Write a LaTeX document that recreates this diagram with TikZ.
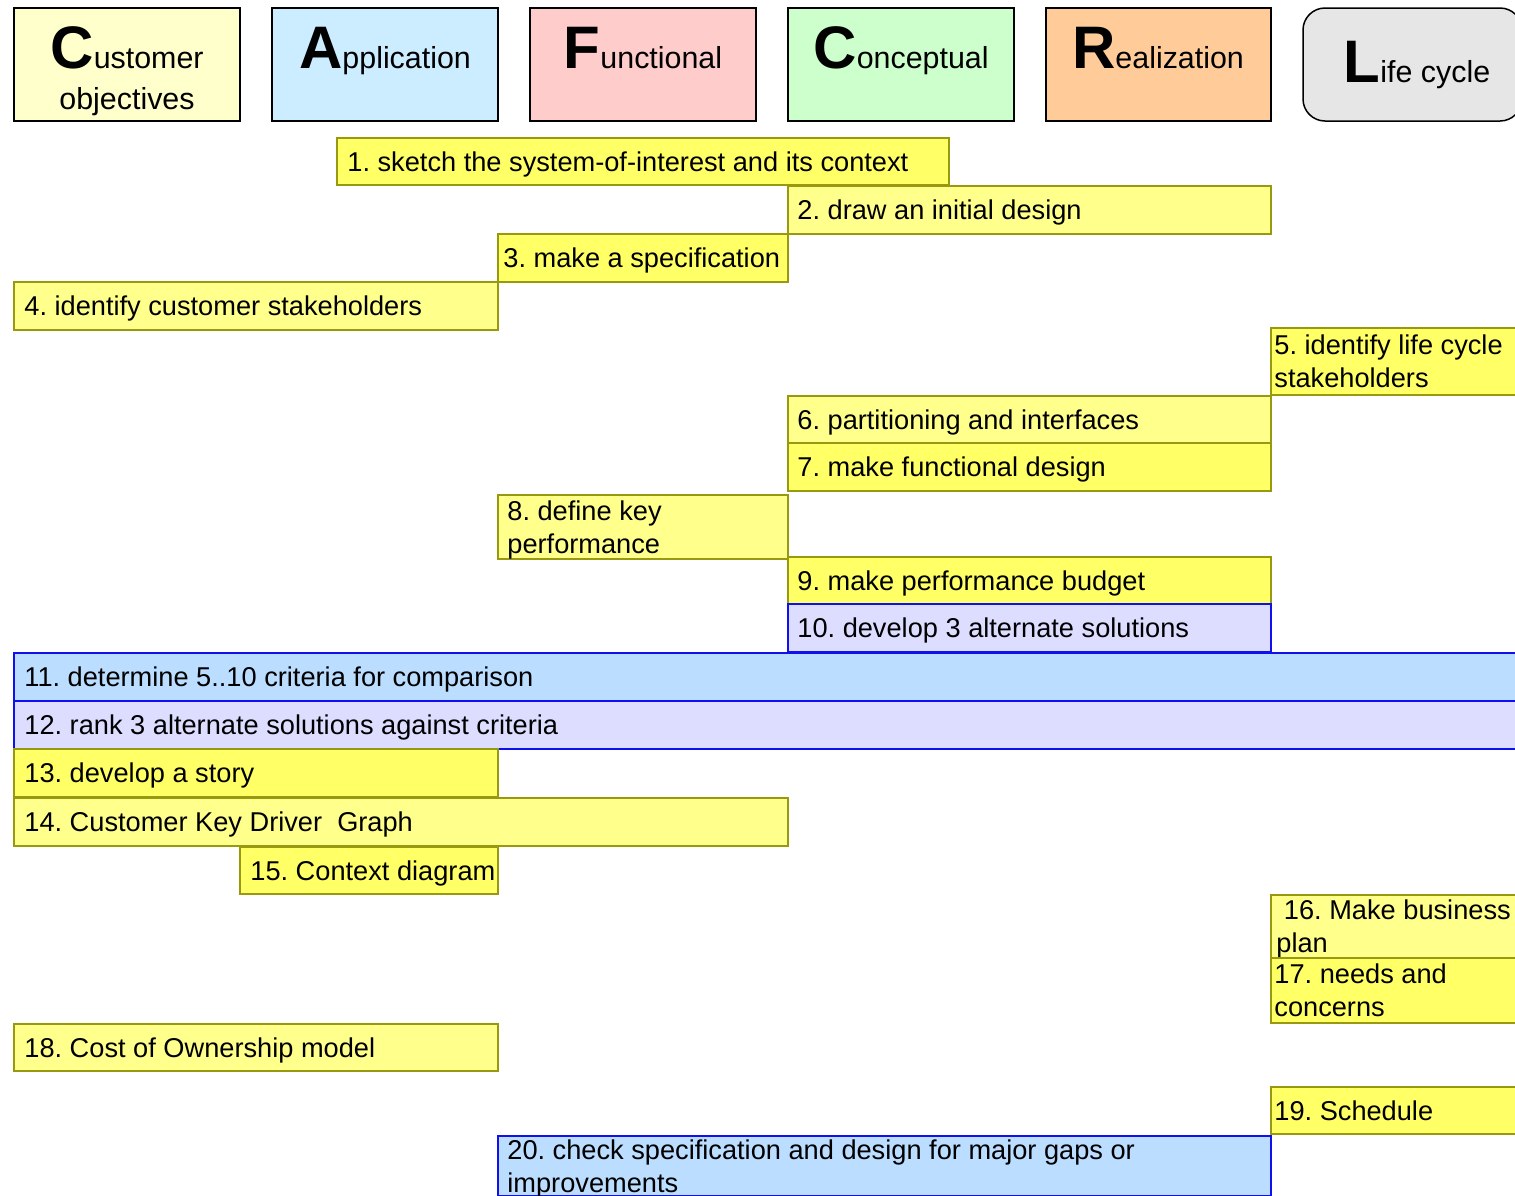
\documentclass[tikz,border=0pt]{standalone}
\usepackage{fontspec}
\setmainfont{Liberation Sans}
\frenchspacing
\definecolor{hdrY}{HTML}{FFFFCC}
\definecolor{hdrB}{HTML}{CCECFF}
\definecolor{hdrP}{HTML}{FFCCCC}
\definecolor{hdrG}{HTML}{CCFFCC}
\definecolor{hdrO}{HTML}{FFCC99}
\definecolor{hdrL}{HTML}{E6E6E6}
\definecolor{yBright}{HTML}{FFFF66}
\definecolor{yPale}{HTML}{FFFF8C}
\definecolor{yBorder}{HTML}{999910}
\definecolor{bLight}{HTML}{BBDDFF}
\definecolor{bLav}{HTML}{DDDDFF}
\definecolor{bBorder}{HTML}{1010EE}
\newcommand\bigletter[1]{{\fontsize{30}{30}\selectfont\bfseries #1}}
\newcommand\task[9]{\draw[#6] (#2,#3) rectangle (#4,#5);
  \node[ttext,#8] (#1) at ({#2+#7},{(#3+#5)/2}) {#9};}
\begin{document}
\begin{tikzpicture}[x=0.5pt,y=-0.5pt,
  hdr/.style={draw=black, line width=0.75pt},
  tb/.style={line width=0.75pt},
  bright/.style={tb, fill=yBright, draw=yBorder},
  pale/.style={tb, fill=yPale, draw=yBorder},
  lblue/.style={tb, fill=bLight, draw=bBorder},
  lav/.style={tb, fill=bLav, draw=bBorder},
  ttext/.style={anchor=west, inner sep=0pt, align=left, font=\fontsize{13.6}{16.5}\selectfont, text height=9.9pt, text depth=0.2pt},
  two/.style={text height=26.4pt, text depth=0.2pt},
  htext/.style={anchor=base, inner sep=0pt, font=\fontsize{15.2}{21}\selectfont}]
\useasboundingbox (0,0) rectangle (1515,1195);
\clip (0,0) rectangle (1515,1195);
% headers
\draw[hdr, fill=hdrY] (14,8) rectangle (240,121);
\node[htext] (hC1) at (127,68) {\bigletter{C}ustomer};
\node[htext] (hC2) at (127,109) {objectives};
\draw[hdr, fill=hdrB] (272,8) rectangle (498,121);
\node[htext] (hA) at (385,68) {\bigletter{A}pplication};
\draw[hdr, fill=hdrP] (530,8) rectangle (756,121);
\node[htext] (hF) at (643,68) {\bigletter{F}unctional};
\draw[hdr, fill=hdrG] (788,8) rectangle (1014,121);
\node[htext] (hCo) at (901,68) {\bigletter{C}onceptual};
\draw[hdr, fill=hdrO] (1046,8) rectangle (1271,121);
\node[htext] (hR) at (1158,68) {\bigletter{R}ealization};
\draw[hdr, fill=hdrL, rounded corners=11pt] (1303,8) rectangle (1522,121);
\node[htext] (hL) at (1417,82) {\bigletter{L}ife cycle};
% tasks
\task{t1}{337}{138}{949}{185}{bright}{10}{}{1. sketch the system-of-interest and its context}
\task{t2}{788}{186}{1271}{234}{pale}{9}{}{2. draw an initial design}
\task{t3}{498}{234}{788}{282}{bright}{5}{}{3. make a specification}
\task{t4}{14}{282}{498}{330}{pale}{10}{}{4. identify customer stakeholders}
\task{t5}{1271}{328}{1530}{395}{bright}{3}{two}{5. identify life cycle\\stakeholders}
\task{t6}{788}{396}{1271}{443}{pale}{9}{}{6. partitioning and interfaces}
\task{t7}{788}{443}{1271}{491}{bright}{9}{}{7. make functional design}
\task{t8}{498}{495}{788}{559}{pale}{9}{two}{8. define key\\performance}
\task{t9}{788}{557}{1271}{604}{bright}{9}{}{9. make performance budget}
\task{t10}{788}{604}{1271}{652}{lav}{9}{}{10. develop 3 alternate solutions}
\task{t11}{14}{653}{1530}{701}{lblue}{10}{}{11. determine 5..10 criteria for comparison}
\task{t12}{14}{701}{1530}{749}{lav}{10}{}{12. rank 3 alternate solutions against criteria}
\task{t13}{14}{749}{498}{797}{bright}{10}{}{13. develop a story}
\task{t14}{14}{798}{788}{846}{pale}{10}{}{14. Customer Key Driver\ \ Graph}
\task{t15}{240}{847}{498}{894}{bright}{10}{}{15. Context diagram}
\task{t16}{1271}{895}{1530}{958}{pale}{5}{two}{\ 16. Make business\\plan}
\task{t17}{1271}{958}{1530}{1023}{bright}{3}{two}{17. needs and\\concerns}
\task{t18}{14}{1024}{498}{1071}{pale}{10}{}{18. Cost of Ownership model}
\task{t19}{1271}{1087}{1530}{1134}{bright}{3}{}{19. Schedule}
\task{t20}{498}{1136}{1271}{1196}{lblue}{9}{two}{20. check specification and design for major gaps or\\improvements}
\end{tikzpicture}
\end{document}
